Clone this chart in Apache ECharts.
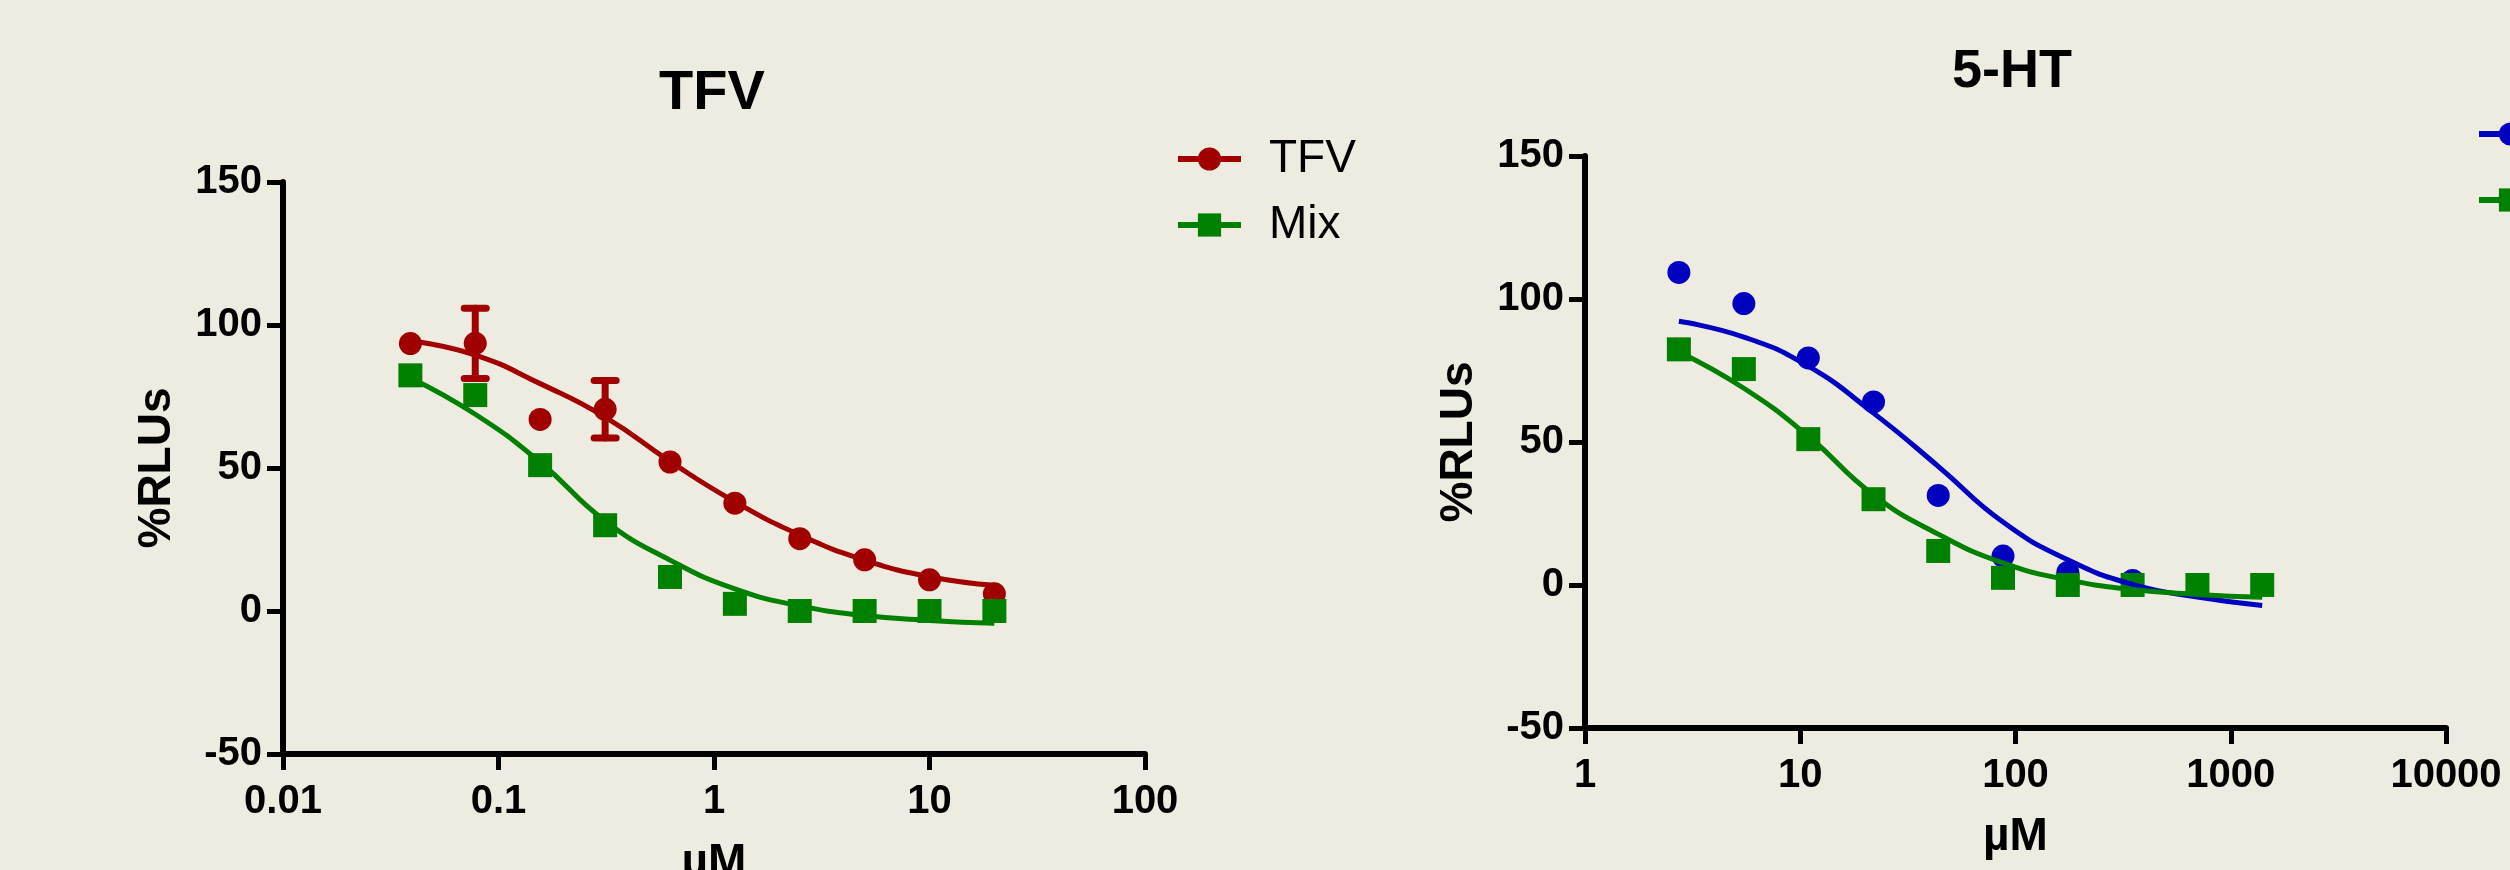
<!DOCTYPE html>
<html>
<head>
<meta charset="utf-8">
<script src="https://cdn.jsdelivr.net/npm/echarts@6/dist/echarts.min.js"></script>
<style>
  html, body { margin: 0; padding: 0; background: #eeebe1; }
  #chart { width: 2510px; height: 870px; }
</style>
</head>
<body>
<div id="chart"></div>
<script>
// concentrations (µM), two-fold dilutions
const tfvConc = [0.039, 0.078, 0.156, 0.3125, 0.625, 1.25, 2.5, 5, 10, 20];
const htConc = [2.73, 5.47, 10.9, 21.9, 43.75, 87.5, 175, 350, 700, 1400];

// measured %RLUs
const tfvValues = [93.5, 93.6, 67, 70.5, 52.1, 37.7, 25.3, 17.9, 10.9, 6.0];
const mixValues = [82.4, 75.5, 51, 30, 11.9, 2.5, 0, 0, 0, 0];
const htValues = [109.3, 98.4, 79.4, 64, 31.3, 10.1, 4.4, 1.6];

// error bars [conc, low, high]
const tfvErrors = [[0.078, 81.3, 105.9], [0.3125, 60.5, 80.6]];

// fitted curves
const tfvFit = [94.5, 89.5, 79.5, 67.8, 52.3, 38.2, 26.6, 17.8, 12, 9];
const mixFit = [81.5, 68.8, 52, 31.5, 17.8, 7.7, 1.8, -1.6, -3.3, -4.3];
const htFit = [92.2, 86.7, 76.5, 60.1, 41.5, 22, 8.8, 0.2, -4.2, -7.2];

// axis ticks
const xTicksLeft = [0.01, 0.1, 1, 10, 100];
const xTicksRight = [1, 10, 100, 1000, 10000];
const xLabelsLeft = ['0.01', '0.1', '1', '10', '100'];
const xLabelsRight = ['1', '10', '100', '1000', '10000'];

const RED = '#a00000';
const GREEN = '#008000';
const BLUE = '#0000c0';
const FONT = "'Liberation Sans', Arial, sans-serif";

const pairs = (xs, ys) => ys.map((y, i) => [xs[i], y]);

function tickLabel(ticks, labels) {
  return (v) => {
    const i = ticks.findIndex(t => Math.abs(Math.log10(t) - Math.log10(v)) < 0.01);
    return i >= 0 ? labels[i] : '';
  };
}

function xAxis(idx, ticks, labels) {
  return {
    type: 'log', logBase: 10, gridIndex: idx,
    min: ticks[0], max: ticks[ticks.length - 1],
    name: 'µM', nameLocation: 'middle', nameGap: 86,
    nameTextStyle: { fontFamily: FONT, fontWeight: 'bold', fontSize: 46, lineHeight: 46, color: '#000' },
    axisLine: { onZero: false, lineStyle: { color: '#000', width: 6 } },
    axisTick: { length: 16, lineStyle: { color: '#000', width: 5 } },
    minorTick: { show: false },
    splitLine: { show: false },
    axisLabel: {
      margin: 28, color: '#000', fontFamily: FONT, fontWeight: 'bold', fontSize: 40, lineHeight: 40,
      formatter: tickLabel(ticks, labels)
    }
  };
}

function yAxis(idx) {
  return {
    type: 'value', gridIndex: idx, min: -50, max: 150, interval: 50,
    name: '%RLUs', nameLocation: 'middle', nameRotate: 90, nameGap: 103,
    nameTextStyle: { fontFamily: FONT, fontWeight: 'bold', fontSize: 46, lineHeight: 46, color: '#000' },
    axisLine: { show: true, onZero: false, lineStyle: { color: '#000', width: 6 } },
    axisTick: { show: true, length: 16, lineStyle: { color: '#000', width: 5 } },
    splitLine: { show: false },
    axisLabel: { margin: 21, color: '#000', fontFamily: FONT, fontWeight: 'bold', fontSize: 40 }
  };
}

function fitLine(name, idx, xs, ys, color, symbol) {
  return {
    name, type: 'line', xAxisIndex: idx, yAxisIndex: idx,
    data: pairs(xs, ys), smooth: 0.5, symbol, showSymbol: false,
    color, itemStyle: { color, opacity: 1 }, lineStyle: { color, width: 5 }, z: 3, silent: true
  };
}

function points(name, idx, xs, ys, color, symbol, size) {
  return {
    name, type: 'scatter', xAxisIndex: idx, yAxisIndex: idx,
    data: pairs(xs, ys), symbol, symbolSize: size,
    itemStyle: { color, opacity: 1 }, z: 2, silent: true
  };
}

function errorBars(idx, data, color) {
  return {
    type: 'custom', xAxisIndex: idx, yAxisIndex: idx, z: 2, silent: true,
    data,
    encode: { x: 0, y: [1, 2] },
    renderItem: (params, api) => {
      const lo = api.coord([api.value(0), api.value(1)]);
      const hi = api.coord([api.value(0), api.value(2)]);
      const w = 11;
      const style = { stroke: color, lineWidth: 7, lineCap: 'round' };
      return {
        type: 'group',
        children: [
          { type: 'line', shape: { x1: lo[0], y1: lo[1], x2: hi[0], y2: hi[1] }, style },
          { type: 'line', shape: { x1: lo[0] - w, y1: lo[1], x2: lo[0] + w, y2: lo[1] }, style },
          { type: 'line', shape: { x1: hi[0] - w, y1: hi[1], x2: hi[0] + w, y2: hi[1] }, style }
        ]
      };
    }
  };
}

function legend(left, top, names) {
  return {
    left, top, orient: 'vertical', data: names,
    itemWidth: 63, itemHeight: 29, itemGap: 20, selectedMode: false,
    lineStyle: { width: 6 },
    textStyle: { fontFamily: FONT, fontSize: 46, lineHeight: 46, color: '#000', padding: [0, 0, 0, 23] }
  };
}

const chart = echarts.init(document.getElementById('chart'));

chart.setOption({
  backgroundColor: '#eeebe1',
  animation: false,
  graphic: [
    { type: 'text', x: 712, y: 94, style: { text: 'TFV', fontFamily: FONT, fontWeight: 'bold', fontSize: 56, fill: '#000', align: 'center', verticalAlign: 'middle' } },
    { type: 'text', x: 2012, y: 72, style: { text: '5-HT', fontFamily: FONT, fontWeight: 'bold', fontSize: 54, fill: '#000', align: 'center', verticalAlign: 'middle' } }
  ],
  legend: [
    legend(1170, 131, ['TFV', 'Mix']),
    legend(2471, 106, ['5-HT', 'Mix'])
  ],
  grid: [
    { left: 283, top: 182, width: 862, height: 572, outerBoundsMode: 'none' },
    { left: 1585, top: 156, width: 861, height: 572, outerBoundsMode: 'none' }
  ],
  xAxis: [xAxis(0, xTicksLeft, xLabelsLeft), xAxis(1, xTicksRight, xLabelsRight)],
  yAxis: [yAxis(0), yAxis(1)],
  series: [
    fitLine('TFV', 0, tfvConc, tfvFit, RED, 'circle'),
    fitLine('Mix', 0, tfvConc, mixFit, GREEN, 'rect'),
    fitLine('5-HT', 1, htConc, htFit, BLUE, 'circle'),
    fitLine('Mix', 1, htConc, mixFit, GREEN, 'rect'),
    errorBars(0, tfvErrors, RED),
    points('TFV', 0, tfvConc, tfvValues, RED, 'circle', 23),
    points('Mix', 0, tfvConc, mixValues, GREEN, 'rect', 24),
    points('5-HT', 1, htConc, htValues, BLUE, 'circle', 23),
    points('Mix', 1, htConc, mixValues, GREEN, 'rect', 24)
  ]
});
</script>
</body>
</html>
